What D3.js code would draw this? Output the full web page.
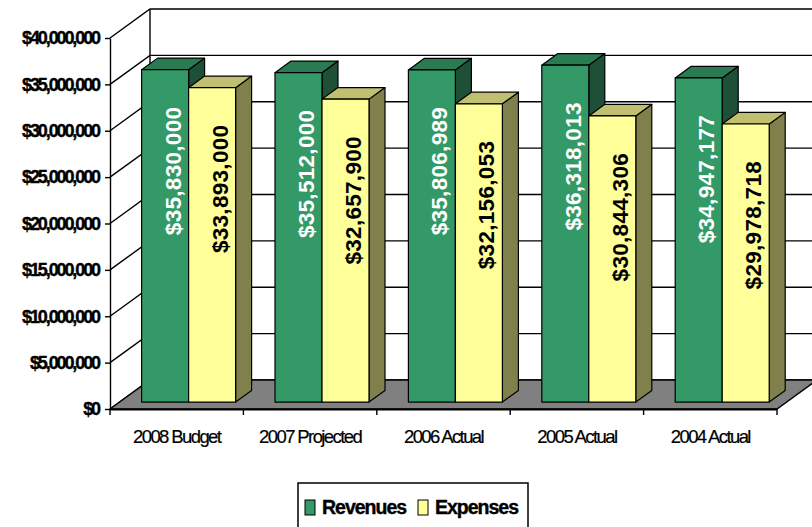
<!DOCTYPE html>
<html>
<head>
<meta charset="utf-8">
<script src="https://cdn.jsdelivr.net/npm/d3@7"></script>
<style>
  body { margin: 0; background: #fff; }
  svg { display: block; font-family: "Liberation Sans", Arial, sans-serif; }
</style>
</head>
<body>
<svg id="chart" width="812" height="527"></svg>
<script>
const categories = ['2008 Budget', '2007 Projected', '2006 Actual', '2005 Actual', '2004 Actual'];
const seriesNames = ['Revenues', 'Expenses'];
const revenues = [35830000, 35512000, 35806989, 36318013, 34947177];
const expenses = [33893000, 32657900, 32156053, 30844306, 29978718];
const yTicks = [0, 5000000, 10000000, 15000000, 20000000, 25000000, 30000000, 35000000, 40000000];

const colors = {
    Revenues: { front: '#339966', top: '#2a7a52', side: '#1e5037', text: '#fff' },
    Expenses: { front: '#ffff99', top: '#c0c070', side: '#80804c', text: '#000' }
};

// 3d depth of the plot box
const depth_x = 40, depth_y = -29;
const bar_z0 = 0.24, bar_z1 = 0.64;

const svg = d3.select('#chart');

const x = d3.scaleBand().domain(categories).range([110, 777]);
const xs = d3.scaleBand().domain(seriesNames).range([22, 116]);
const y = d3.scaleLinear().domain([0, 40000000]).range([409, 38]);

// project a front-plane point back by z (0..1)
const P = (px, py, z) => [px + z * depth_x, py + z * depth_y];
const poly = pts => pts.map(p => p.join(',')).join(' ');

const x0 = x.range()[0], x1 = x.range()[1];
const yTop = y(40000000), yBot = y(0);

// left wall
svg.append('polygon')
    .attr('points', poly([P(x0, yTop, 0), P(x0, yTop, 1), P(x0, yBot, 1), P(x0, yBot, 0)]))
    .attr('fill', '#fff');

// grid lines: left wall diagonals + back wall horizontals
yTicks.forEach(t => {
    const a = P(x0, y(t), 0), b = P(x0, y(t), 1), c = P(x1, y(t), 1);
    svg.append('polyline')
        .attr('points', poly([a, b, c]))
        .attr('fill', 'none')
        .attr('stroke', '#000')
        .attr('stroke-width', 1.4);
});
// back wall left edge
svg.append('line')
    .attr('x1', P(x0, yTop, 1)[0]).attr('y1', P(x0, yTop, 1)[1])
    .attr('x2', P(x0, yBot, 1)[0]).attr('y2', P(x0, yBot, 1)[1])
    .attr('stroke', '#000').attr('stroke-width', 1.4);

// floor
svg.append('polygon')
    .attr('points', poly([P(x0, yBot, 0), P(x1, yBot, 0), P(x1, yBot, 1), P(x0, yBot, 1)]))
    .attr('fill', '#808080')
    .attr('stroke', '#000')
    .attr('stroke-width', 1.4);
svg.append('line')
    .attr('x1', x0).attr('y1', yBot + 0.5).attr('x2', x1).attr('y2', yBot + 0.5)
    .attr('stroke', '#000').attr('stroke-width', 2.2);

// bars
const rows = [];
categories.forEach((c, i) => {
    rows.push({ cat: c, s: 'Revenues', v: revenues[i] });
    rows.push({ cat: c, s: 'Expenses', v: expenses[i] });
});

const bars = svg.append('g').selectAll('g')
    .data(rows)
    .join('g');

bars.each(function (d) {
    const g = d3.select(this);
    const l = x(d.cat) + xs(d.s), r = l + xs.bandwidth();
    const t = y(d.v), b = y(0);
    const col = colors[d.s];
    const stroke = sel => sel.attr('stroke', '#000').attr('stroke-width', 1.2).attr('stroke-linejoin', 'round');
    // side
    g.append('polygon')
        .attr('points', poly([P(r, t, bar_z0), P(r, t, bar_z1), P(r, b, bar_z1), P(r, b, bar_z0)]))
        .attr('fill', col.side).call(stroke);
    // top
    g.append('polygon')
        .attr('points', poly([P(l, t, bar_z0), P(l, t, bar_z1), P(r, t, bar_z1), P(r, t, bar_z0)]))
        .attr('fill', col.top).call(stroke);
    // front
    g.append('polygon')
        .attr('points', poly([P(l, t, bar_z0), P(r, t, bar_z0), P(r, b, bar_z0), P(l, b, bar_z0)]))
        .attr('fill', col.front).call(stroke);
});

// value labels
const fmt = d3.format('$,');
bars.append('text')
    .attr('transform', d => {
        const cx = x(d.cat) + xs(d.s) + xs.bandwidth() / 2;
        const p = P(cx, y(d.v), (bar_z0 + bar_z1) / 2);
        return `translate(${p[0]},${p[1] + 107}) rotate(-90)`;
    })
    .attr('text-anchor', 'middle')
    .attr('dominant-baseline', 'central')
    .attr('font-size', 22.5)
    .attr('font-weight', 'bold')
    .attr('letter-spacing', 0.3)
    .attr('fill', d => colors[d.s].text)
    .text(d => fmt(d.v));

// y axis
const yAxis = d3.axisLeft(y)
    .tickValues(yTicks)
    .tickFormat(d3.format('$,'))
    .tickSizeInner(5)
    .tickSizeOuter(0)
    .tickPadding(6);

const ya = svg.append('g')
    .attr('transform', `translate(${x0},0)`)
    .call(yAxis);
ya.select('.domain').attr('stroke', '#000').attr('stroke-width', 1.4);
ya.selectAll('.tick line').attr('stroke', '#000').attr('stroke-width', 1.4);
ya.selectAll('.tick text')
    .attr('font-family', '"Liberation Sans", Arial, sans-serif')
    .attr('font-size', 18)
    .attr('font-weight', 'bold')
    .attr('letter-spacing', -2.1)
    .attr('stroke', '#000')
    .attr('stroke-width', 0.4)
    .attr('fill', '#000');

// x axis: ticks on category boundaries
const xa = svg.append('g');
const bounds = categories.map(c => x(c)).concat([x1]);
xa.selectAll('line')
    .data(bounds)
    .join('line')
    .attr('x1', d => d).attr('x2', d => d)
    .attr('y1', yBot).attr('y2', yBot + 6)
    .attr('stroke', '#000').attr('stroke-width', 1.4);
xa.selectAll('text')
    .data(categories)
    .join('text')
    .attr('x', d => x(d) + x.bandwidth() / 2)
    .attr('y', 443)
    .attr('text-anchor', 'middle')
    .attr('font-size', 18.5)
    .attr('letter-spacing', -1.6)
    .attr('stroke', '#000')
    .attr('stroke-width', 0.2)
    .text(d => d);

// legend
const legend = svg.append('g');
legend.append('rect')
    .attr('x', 298).attr('y', 483)
    .attr('width', 230).attr('height', 60)
    .attr('fill', '#fff')
    .attr('stroke', '#000')
    .attr('stroke-width', 1.5);
const legX = [305, 418];
seriesNames.forEach((s, i) => {
    legend.append('rect')
        .attr('x', legX[i]).attr('y', 500)
        .attr('width', 10).attr('height', 15)
        .attr('fill', colors[s].front)
        .attr('stroke', '#000')
        .attr('stroke-width', 1);
    legend.append('text')
        .attr('x', legX[i] + 17).attr('y', 514)
        .attr('font-size', 19.5)
        .attr('font-weight', 'bold')
        .attr('letter-spacing', -1)
        .attr('stroke', '#000')
        .attr('stroke-width', 0.4)
        .text(s);
});
</script>
</body>
</html>
